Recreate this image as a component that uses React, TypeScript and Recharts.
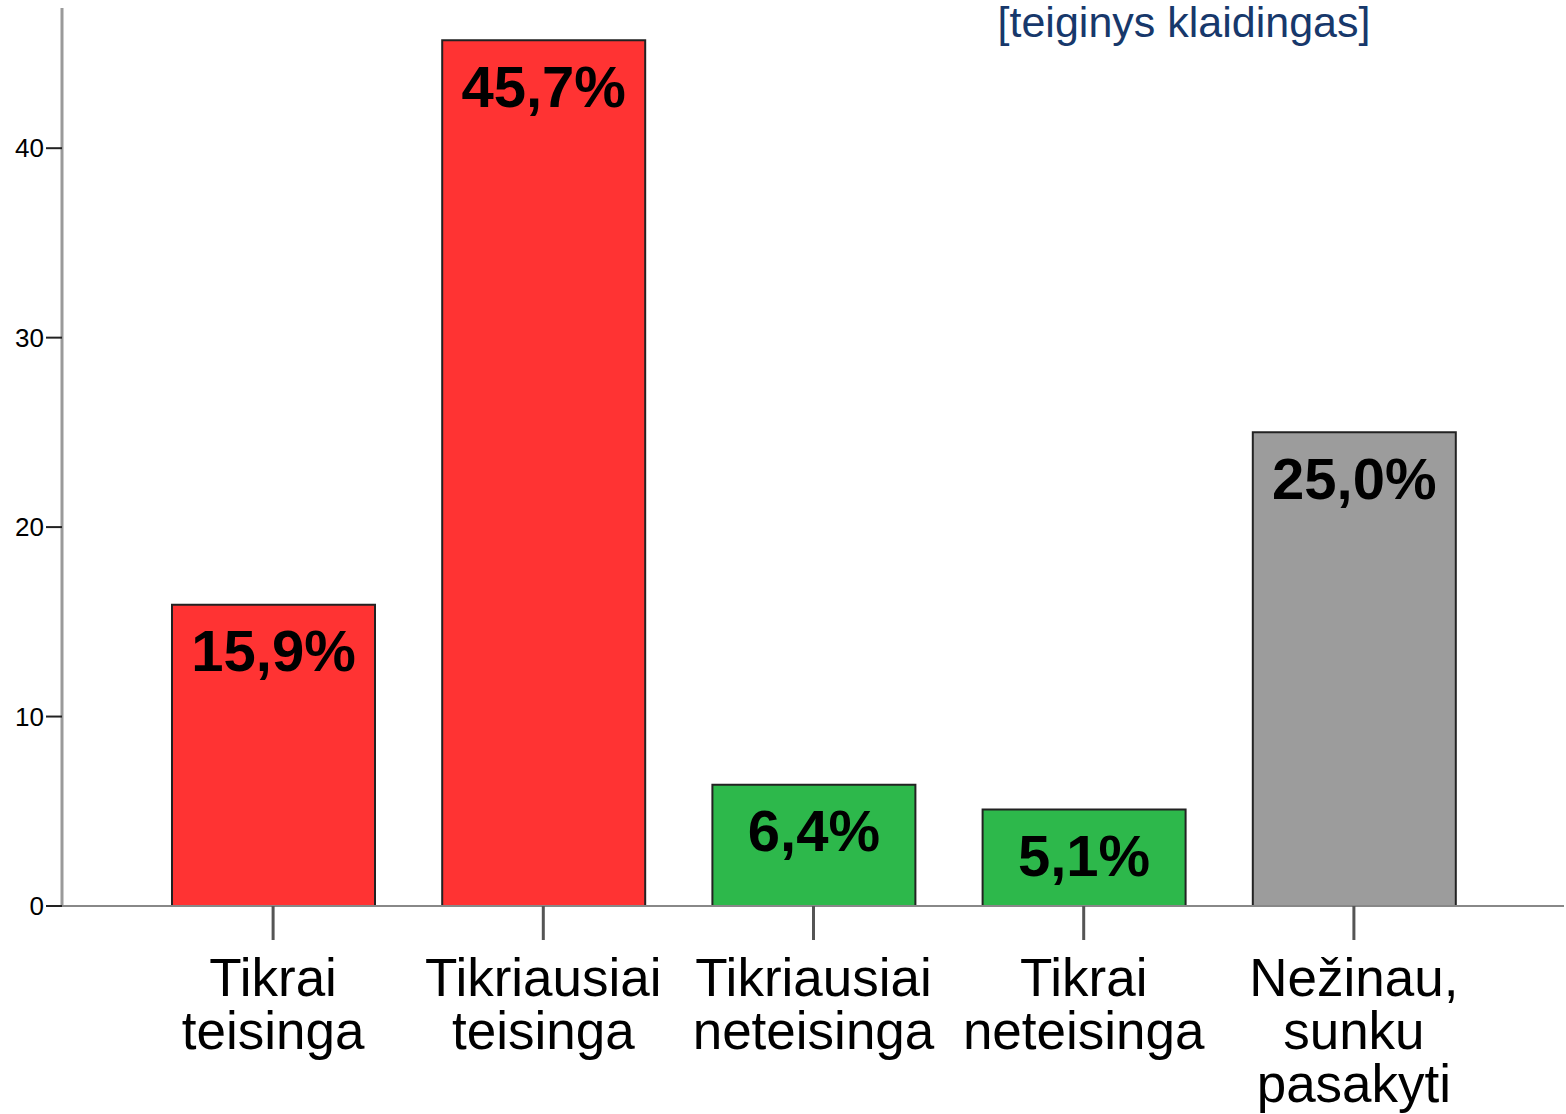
import { BarChart, Bar, XAxis, YAxis, Cell, LabelList } from "recharts";

const categories = [
  "Tikrai teisinga",
  "Tikriausiai teisinga",
  "Tikriausiai neteisinga",
  "Tikrai neteisinga",
  "Nežinau, sunku pasakyti",
];
const categoryLines = [
  ["Tikrai", "teisinga"],
  ["Tikriausiai", "teisinga"],
  ["Tikriausiai", "neteisinga"],
  ["Tikrai", "neteisinga"],
  ["Nežinau,", "sunku", "pasakyti"],
];
const percents = [15.9, 45.7, 6.4, 5.1, 25.0];
const barColors = ["#ff3333", "#ff3333", "#2db84b", "#2db84b", "#9c9c9c"];
const yTicks = [0, 10, 20, 30, 40];
const title = "[teiginys klaidingas]";

const data = categories.map((name, i) => ({
  name,
  value: percents[i],
  lines: categoryLines[i],
}));

const FONT = "'Liberation Sans', Arial, sans-serif";

const CategoryTick = (props: any) => {
  const { x, y, payload } = props;
  const lines = categoryLines[payload.index] || [payload.value];
  return (
    <text x={x} y={y} textAnchor="middle" fontFamily={FONT} fontSize={53} fill="#000">
      {lines.map((l: string, i: number) => (
        <tspan key={i} x={x} dy={i === 0 ? 54 : 53}>
          {l}
        </tspan>
      ))}
    </text>
  );
};

const PctLabel = (props: any) => {
  const { x, y, width, value } = props;
  return (
    <text
      x={x + width / 2}
      y={y + 46}
      textAnchor="middle"
      dominantBaseline="central"
      fontFamily={FONT}
      fontWeight="bold"
      fontSize={58}
      fill="#000"
    >
      {value.toFixed(1).replace(".", ",") + "%"}
    </text>
  );
};

export default function App() {
  return (
    <div style={{ position: "absolute", left: 0, top: 0, width: 1566, height: 1114, background: "#fff" }}>
      <BarChart
        width={1566}
        height={1114}
        data={data}
        margin={{ top: 8, right: 2, bottom: 0, left: 0 }}
        barSize={203}
      >
        <YAxis
          width={62}
          domain={[0, 47.4]}
          ticks={yTicks}
          allowDataOverflow
          axisLine={{ stroke: "#9a9a9a", strokeWidth: 3 }}
          tickLine={{ stroke: "#222", strokeWidth: 2 }}
          tickSize={16}
          tickMargin={2}
          tick={{ fontFamily: FONT, fontSize: 26, fill: "#000" }}
        />
        <XAxis
          dataKey="name"
          height={208}
          padding={{ left: 76, right: 75 }}
          axisLine={{ stroke: "#888", strokeWidth: 2 }}
          tickLine={{ stroke: "#555", strokeWidth: 3 }}
          tickSize={34}
          tickMargin={2}
          interval={0}
          tick={<CategoryTick />}
        />
        <Bar dataKey="value" stroke="#222" strokeWidth={2} isAnimationActive={false}>
          {data.map((d, i) => (
            <Cell key={d.name} fill={barColors[i]} />
          ))}
          <LabelList dataKey="value" content={<PctLabel />} />
        </Bar>
      </BarChart>
      <div
        style={{
          position: "absolute",
          left: 984,
          top: -3,
          width: 400,
          textAlign: "center",
          fontFamily: FONT,
          fontSize: 43,
          lineHeight: "50px",
          color: "#17386b",
        }}
      >
        {title}
      </div>
    </div>
  );
}
